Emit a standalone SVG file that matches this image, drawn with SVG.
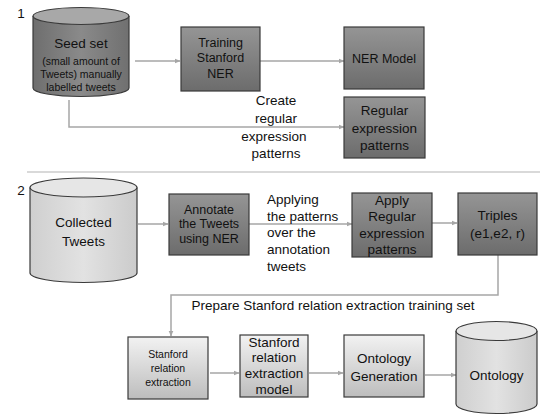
<svg xmlns="http://www.w3.org/2000/svg" width="553" height="417" viewBox="0 0 553 417">
<defs>
<linearGradient id="gDark" x1="0" y1="0" x2="0" y2="1">
<stop offset="0" stop-color="#959595"/><stop offset="1" stop-color="#6c6c6c"/>
</linearGradient>
<linearGradient id="gLight" x1="0" y1="0" x2="0" y2="1">
<stop offset="0" stop-color="#f2f2f2"/><stop offset="1" stop-color="#bdbdbd"/>
</linearGradient>
<linearGradient id="gCylDark" x1="0" y1="0" x2="1" y2="0">
<stop offset="0" stop-color="#6e6e6e"/><stop offset="0.5" stop-color="#8a8a8a"/><stop offset="1" stop-color="#707070"/>
</linearGradient>
<linearGradient id="gCylLight" x1="0" y1="0" x2="1" y2="0">
<stop offset="0" stop-color="#cfcfcf"/><stop offset="0.5" stop-color="#e2e2e2"/><stop offset="1" stop-color="#cbcbcb"/>
</linearGradient>
<marker id="arr" viewBox="0 0 6 6" refX="5.5" refY="3" markerWidth="6" markerHeight="6" orient="auto" markerUnits="userSpaceOnUse">
<path d="M0,0.5 L6,3 L0,5.5 Z" fill="#a6a6a6"/>
</marker>
<style>
.t{font-family:"Liberation Sans",Arial,sans-serif;fill:#111;text-anchor:middle;dominant-baseline:central}
.l{text-anchor:start}
.f14{font-size:13.5px}
.f13{font-size:12.5px}
.f11{font-size:10.5px}
.dark{fill:url(#gDark);stroke:#3a3a3a;stroke-width:1.2}
.light{fill:url(#gLight);stroke:#3a3a3a;stroke-width:1.2}
.c{fill:none;stroke:#a6a6a6;stroke-width:1.5}
.sep{stroke:#cccccc;stroke-width:1.5}
</style>
</defs>

<text class="t f14" x="21" y="13">1</text>
<text class="t f14" x="21" y="190">2</text>
<line class="sep" x1="27" y1="172" x2="540" y2="172"/>

<g id="connectors">
<line class="c" x1="135" y1="61" x2="180" y2="61" marker-end="url(#arr)"/>
<line class="c" x1="260" y1="61" x2="344" y2="61" marker-end="url(#arr)"/>
<polyline class="c" points="69,100 69,127 344,127" marker-end="url(#arr)"/>
<line class="c" x1="138" y1="224" x2="168" y2="224" marker-end="url(#arr)"/>
<line class="c" x1="249" y1="224" x2="352" y2="224" marker-end="url(#arr)"/>
<line class="c" x1="432" y1="223" x2="457" y2="223" marker-end="url(#arr)"/>
<polyline class="c" points="498,255 498,295 171,295 171,336" marker-end="url(#arr)"/>
<line class="c" x1="210" y1="373" x2="239" y2="373" marker-end="url(#arr)"/>
<line class="c" x1="309" y1="373" x2="343" y2="373" marker-end="url(#arr)"/>
<line class="c" x1="425" y1="375" x2="456" y2="375" marker-end="url(#arr)"/>
<text class="t f14" x="276" y="100">Create</text>
<text class="t f14" x="276" y="118">regular</text>
<text class="t f14" x="274" y="136">expression</text>
<text class="t f14" x="276" y="153">patterns</text>
<text class="t f14 l" x="267" y="199">Applying</text>
<text class="t f14 l" x="267" y="216">the patterns</text>
<text class="t f14 l" x="267" y="232">over the</text>
<text class="t f14 l" x="267" y="249">annotation</text>
<text class="t f14 l" x="267" y="266">tweets</text>
<text class="t f14" x="333" y="305">Prepare Stanford relation extraction training set</text>
</g>

<g id="seed-set">
<path d="M33,16 L33,88 A48,8.5 0 0 0 129,88 L129,16" fill="url(#gCylDark)" stroke="#3a3a3a" stroke-width="1.2"/>
<ellipse cx="81" cy="16" rx="48" ry="8.5" fill="#a8a8a8" stroke="#3a3a3a" stroke-width="1.2"/>
<text class="t f14" x="81" y="43">Seed set</text>
<text class="t f11" x="81" y="61">(small amount of</text>
<text class="t f11" x="81" y="74">Tweets) manually</text>
<text class="t f11" x="81" y="87">labelled tweets</text>
</g>

<g id="training-ner">
<rect class="dark" x="181" y="27" width="79" height="64"/>
<text class="t f13" x="220.5" y="43">Training</text>
<text class="t f13" x="220.5" y="58">Stanford</text>
<text class="t f13" x="220.5" y="74">NER</text>
</g>

<g id="ner-model">
<rect class="dark" x="344" y="27" width="80" height="62"/>
<text class="t f13" x="384" y="59">NER Model</text>
</g>

<g id="regex-patterns">
<rect class="dark" x="344" y="97" width="81" height="61"/>
<text class="t f14" x="384.5" y="110">Regular</text>
<text class="t f14" x="384.5" y="128">expression</text>
<text class="t f14" x="384.5" y="145">patterns</text>
</g>

<g id="collected-tweets">
<path d="M30,187.5 L30,273 A53.5,9.5 0 0 0 137,273 L137,187.5" fill="url(#gCylLight)" stroke="#3a3a3a" stroke-width="1.2"/>
<ellipse cx="83.5" cy="187.5" rx="53.5" ry="9.5" fill="#e6e6e6" stroke="#3a3a3a" stroke-width="1.2"/>
<text class="t f14" x="83.5" y="222">Collected</text>
<text class="t f14" x="83.5" y="241">Tweets</text>
</g>

<g id="annotate">
<rect class="dark" x="169" y="194" width="80" height="61"/>
<text class="t f13" x="209" y="210">Annotate</text>
<text class="t f13" x="209" y="224">the Tweets</text>
<text class="t f13" x="209" y="239">using NER</text>
</g>

<g id="apply-regex">
<rect class="dark" x="352" y="193" width="80" height="64"/>
<text class="t f14" x="392" y="200">Apply</text>
<text class="t f14" x="392" y="216">Regular</text>
<text class="t f14" x="392" y="233">expression</text>
<text class="t f14" x="392" y="249">patterns</text>
</g>

<g id="triples">
<rect class="dark" x="458" y="193" width="79" height="62"/>
<text class="t f14" x="497.5" y="215">Triples</text>
<text class="t f14" x="497.5" y="233">(e1,e2, r)</text>
</g>

<g id="stanford-re">
<rect class="light" x="128" y="337" width="80" height="62"/>
<text class="t f11" x="168" y="354">Stanford</text>
<text class="t f11" x="168" y="368">relation</text>
<text class="t f11" x="168" y="382">extraction</text>
</g>

<g id="stanford-re-model">
<rect class="light" x="240" y="335" width="68" height="62"/>
<text class="t f14" x="274" y="342">Stanford</text>
<text class="t f14" x="274" y="357">relation</text>
<text class="t f14" x="274" y="373">extraction</text>
<text class="t f14" x="274" y="389">model</text>
</g>

<g id="ontology-generation">
<rect class="light" x="344" y="335" width="80" height="62"/>
<text class="t f14" x="384" y="358">Ontology</text>
<text class="t f14" x="384" y="376">Generation</text>
</g>

<g id="ontology">
<path d="M456,331 L456,404 A40.5,9.5 0 0 0 537,404 L537,331" fill="url(#gCylLight)" stroke="#3a3a3a" stroke-width="1.2"/>
<ellipse cx="496.5" cy="331" rx="40.5" ry="9.5" fill="#e6e6e6" stroke="#3a3a3a" stroke-width="1.2"/>
<text class="t f14" x="496.5" y="375">Ontology</text>
</g>
</svg>
